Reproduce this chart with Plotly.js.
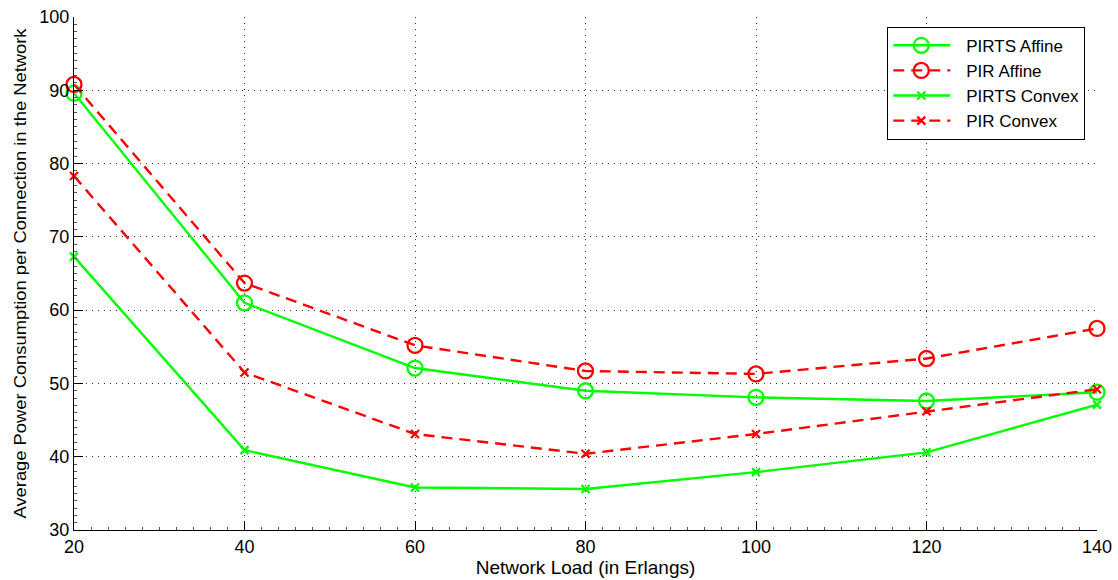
<!DOCTYPE html>
<html>
<head>
<meta charset="utf-8">
<script src="https://cdn.plot.ly/plotly-3.0.1.min.js"></script>
<style>
  html, body { margin: 0; padding: 0; background: #fff; }
  #chart { width: 1118px; height: 580px; }
</style>
</head>
<body>
<div id="chart"></div>
<script>
// Network load (Erlangs)
const load = [20, 40, 60, 80, 100, 120, 140];

// Average power consumption per connection
const pirtsAffine = [89.6, 61.0, 52.1, 49.0, 48.1, 47.6, 48.8];
const pirAffine   = [90.8, 63.7, 55.2, 51.7, 51.3, 53.4, 57.5];
const pirtsConvex = [67.3, 40.9, 35.8, 35.6, 37.9, 40.6, 47.1];
const pirConvex   = [78.3, 51.5, 43.1, 40.4, 43.1, 46.2, 49.2];

const seriesNames = ['PIRTS Affine', 'PIR Affine', 'PIRTS Convex', 'PIR Convex'];

const GREEN = '#00ff00';
const RED = '#ff0000';
const FONT = 'Liberation Sans, Arial, sans-serif';

function trace(y, name, color, dash, symbol, size) {
  return {
    x: load, y: y, name: name, type: 'scatter', mode: 'lines+markers',
    line: { color: color, width: 2.4, dash: dash },
    marker: { symbol: symbol, size: size, color: color,
              line: { color: color, width: 2.3 } },
    cliponaxis: false
  };
}

const data = [
  trace(pirtsAffine, seriesNames[0], GREEN, 'solid', 'circle-open', 15),
  trace(pirAffine,   seriesNames[1], RED,   '11px,7px', 'circle-open', 15),
  trace(pirtsConvex, seriesNames[2], GREEN, 'solid', 'x-thin-open', 8),
  trace(pirConvex,   seriesNames[3], RED,   '11px,7px', 'x-thin-open', 8)
];

const tickFont = { family: FONT, size: 18, color: '#000' };

const commonAxis = {
  ticks: 'inside', ticklen: 9, tickcolor: '#000', tickwidth: 1,
  showline: true, linecolor: '#000', linewidth: 1, mirror: false,
  showgrid: true, gridcolor: '#333', griddash: '1px,5px', gridwidth: 1,
  zeroline: false, tickfont: tickFont, automargin: false
};

const layout = {
  width: 1118, height: 580,
  margin: { l: 74, r: 21, t: 17, b: 50 },
  paper_bgcolor: '#fff', plot_bgcolor: '#fff',
  showlegend: true,
  legend: {
    x: 0.795, y: 0.981, xanchor: 'left', yanchor: 'top',
    bgcolor: '#fff', bordercolor: '#000', borderwidth: 1,
    font: { family: FONT, size: 17, color: '#000' },
    tracegroupgap: 0, itemwidth: 68
  },
  xaxis: Object.assign({}, commonAxis, {
    range: [20, 140], tickvals: [20, 40, 60, 80, 100, 120, 140],
    minor: { dtick: 2, ticks: 'inside', ticklen: 3, tickcolor: '#555', showgrid: false },
    title: { text: 'Network Load (in Erlangs)', font: { family: FONT, size: 19, color: '#000' }, standoff: 2 }
  }),
  yaxis: Object.assign({}, commonAxis, {
    range: [30, 100], tickvals: [30, 40, 50, 60, 70, 80, 90, 100],
    minor: { dtick: 1, ticks: 'inside', ticklen: 3, tickcolor: '#555', showgrid: false },
    title: { text: 'Average Power Consumption per Connection in the Network', font: { family: FONT, size: 17, color: '#000' }, standoff: 8 }
  })
};

Plotly.newPlot('chart', data, layout, { displayModeBar: false, staticPlot: true }).then(function (gd) {
  // Stretch the long vertical axis title so it spans the plot height
  const yt = gd.querySelector('.ytitle');
  if (yt) {
    yt.setAttribute('textLength', '490');
    yt.setAttribute('lengthAdjust', 'spacingAndGlyphs');
  }
  // Longer legend sample lines with the marker centred on them
  gd.querySelectorAll('.legend .legendlines path').forEach(function (p) {
    p.setAttribute('d', 'M5,0h57');
  });
  gd.querySelectorAll('.legend .legendpoints path').forEach(function (p) {
    p.setAttribute('transform', 'translate(33,0)');
  });
});
</script>
</body>
</html>
